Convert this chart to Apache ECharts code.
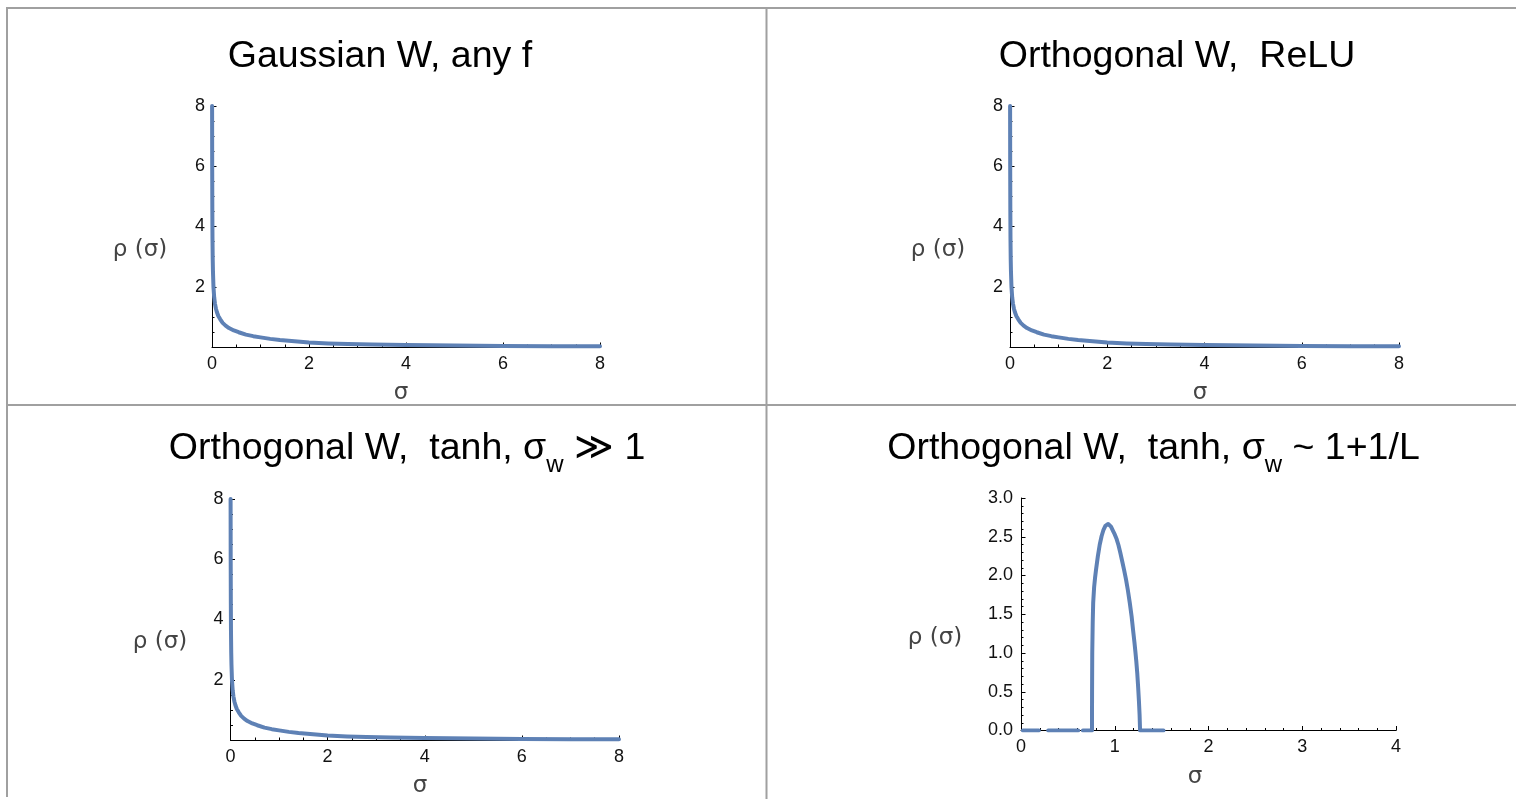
<!DOCTYPE html>
<html>
<head>
<meta charset="utf-8">
<script src="https://cdn.jsdelivr.net/npm/echarts@6/dist/echarts.min.js"></script>
<style>
html,body{margin:0;padding:0;background:#fff;}
#chart{width:1516px;height:799px;}
</style>
</head>
<body>
<div id="chart"></div>
<script>
// ---- data ----
// heavy-tailed density (same shape in three panels)
const sigmaHeavy = [0.002, 0.004, 0.007, 0.01, 0.015, 0.02, 0.03, 0.045, 0.06, 0.08, 0.1, 0.13, 0.17, 0.22, 0.28, 0.35, 0.45, 0.55, 0.7, 0.85, 1.0, 1.2, 1.4, 1.7, 2.0, 2.4, 2.8, 3.3, 4.0, 5.0, 6.0, 7.0, 8.0];
const rhoHeavy   = [8.0, 6.0, 4.5, 3.6, 2.9, 2.5, 2.0, 1.65, 1.45, 1.28, 1.16, 1.03, 0.92, 0.8, 0.71, 0.63, 0.55, 0.49, 0.41, 0.36, 0.32, 0.27, 0.23, 0.19, 0.15, 0.118, 0.097, 0.08, 0.063, 0.048, 0.037, 0.029, 0.024];
// compact density (bottom-right panel); '-' marks gaps in the drawn line
const sigmaArc = [0.02, 0.19, 0.24, 0.29, 0.61, 0.635, 0.66, 0.757, 0.758, 0.76, 0.765, 0.77, 0.78, 0.79, 0.80, 0.82, 0.84, 0.86, 0.88, 0.90, 0.915, 0.93, 0.945, 0.96, 0.98, 1.00, 1.02, 1.04, 1.06, 1.08, 1.10, 1.12, 1.14, 1.16, 1.18, 1.195, 1.21, 1.22, 1.23, 1.24, 1.25, 1.258, 1.265, 1.27, 1.52];
const rhoArc   = [0, 0, '-', 0, 0, '-', 0, 0, 0.5, 1.0, 1.4, 1.65, 1.85, 1.97, 2.07, 2.25, 2.40, 2.51, 2.59, 2.64, 2.66, 2.665, 2.655, 2.63, 2.58, 2.53, 2.47, 2.39, 2.29, 2.18, 2.07, 1.95, 1.81, 1.65, 1.47, 1.30, 1.14, 1.02, 0.89, 0.74, 0.55, 0.38, 0.2, 0, 0];

const titles = [
  '{a|Gaussian W, any f}',
  '{a|Orthogonal W,  ReLU}',
  '{a|Orthogonal W,  tanh, σ}{s|w}{a| ≫ 1}',
  '{a|Orthogonal W,  tanh, σ}{s|w}{a| ~ 1+1/L}'
];
const yName = 'ρ (σ)';
const xName = 'σ';

// ---- layout ----
const grids = [
  {left: 212, top: 106, width: 388, height: 241},
  {left: 1010, top: 106, width: 389, height: 241},
  {left: 230.5, top: 499, width: 388.5, height: 241},
  {left: 1021, top: 498, width: 375, height: 232.5}
];
const titlePos = [[380, 35], [1177, 35], [407, 427], [1153.5, 427]];
const yNamePos = [[140, 250], [938, 250], [160, 642], [935, 638]];
const xNamePos = [[401, 393], [1200, 393], [420, 786], [1195, 777]];

const pair = (xs, ys) => xs.map((x, i) => [x, ys[i]]);
const heavy = pair(sigmaHeavy, rhoHeavy);
const arc = pair(sigmaArc, rhoArc);

const labelStyle = {color: '#111', fontSize: 18, fontFamily: 'Liberation Sans'};
const richA = {fontSize: 37.5, fontFamily: 'Liberation Sans', fontWeight: 'normal', color: '#000', height: 44, lineHeight: 44, verticalAlign: 'top'};
const richS = {fontSize: 24, fontFamily: 'Liberation Sans', fontWeight: 'normal', color: '#000', height: 24, lineHeight: 50, verticalAlign: 'bottom'};

function xAxisFor(i) {
  const compact = i === 3;
  return {
    type: 'value', gridIndex: i, min: 0, max: compact ? 4 : 8, interval: compact ? 1 : 2,
    axisLine: {show: true, onZero: false, lineStyle: {color: '#000', width: 1}},
    axisTick: {show: true, inside: true, length: 4.5, lineStyle: {color: '#000'}},
    minorTick: {show: true, splitNumber: compact ? 5 : 4, length: 2.5, lineStyle: {color: '#000'}},
    splitLine: {show: false}, minorSplitLine: {show: false},
    axisLabel: Object.assign({margin: 8}, labelStyle)
  };
}
function yAxisFor(i) {
  const compact = i === 3;
  return {
    type: 'value', gridIndex: i, min: 0, max: compact ? 3 : 8, interval: compact ? 0.5 : 2,
    axisLine: {show: true, onZero: false, lineStyle: {color: '#000', width: 1}},
    axisTick: {show: true, inside: true, length: 4.5, lineStyle: {color: '#000'}},
    minorTick: {show: true, splitNumber: compact ? 5 : 4, length: 2.5, lineStyle: {color: '#000'}},
    splitLine: {show: false}, minorSplitLine: {show: false},
    axisLabel: Object.assign({
      margin: compact ? 8 : 7,
      formatter: v => compact ? v.toFixed(1) : (v === 0 ? '' : String(v))
    }, labelStyle)
  };
}

const tableLine = (x1, y1, x2, y2) => ({
  type: 'line', silent: true, z: 0,
  shape: {x1, y1, x2, y2},
  style: {stroke: '#a0a0a0', lineWidth: 2}
});
const nameText = (txt, pos, size) => ({
  type: 'text', silent: true, x: pos[0], y: pos[1],
  style: {text: txt, fill: '#444', fontSize: size, fontFamily: 'DejaVu Sans', align: 'center', verticalAlign: 'middle'}
});

const option = {
  backgroundColor: '#fff',
  animation: false,
  title: titles.map((t, i) => ({
    text: t, left: titlePos[i][0], top: titlePos[i][1], padding: 0,
    textAlign: 'center', textVerticalAlign: 'top',
    textStyle: {fontWeight: 'normal', fontSize: 37.5, rich: {a: richA, s: richS}}
  })),
  grid: grids.map(g => Object.assign({containLabel: false, outerBoundsMode: 'none'}, g)),
  xAxis: [0, 1, 2, 3].map(xAxisFor),
  yAxis: [0, 1, 2, 3].map(yAxisFor),
  series: [0, 1, 2, 3].map(i => ({
    type: 'line', xAxisIndex: i, yAxisIndex: i,
    data: i === 3 ? arc : heavy,
    showSymbol: false, symbol: 'none', connectNulls: false, clip: true,
    lineStyle: {color: '#5e81b5', width: 4, cap: 'round', join: 'round'}
  })),
  graphic: [
    tableLine(6, 8, 1516, 8),
    tableLine(7, 8, 7, 797),
    tableLine(766.5, 8, 766.5, 799),
    tableLine(7, 405, 1516, 405)
  ].concat(
    yNamePos.map(p => nameText(yName, p, 23)),
    xNamePos.map(p => nameText(xName, p, 23))
  )
};

const chart = echarts.init(document.getElementById('chart'), null, {renderer: 'canvas'});
chart.setOption(option);
</script>
</body>
</html>
